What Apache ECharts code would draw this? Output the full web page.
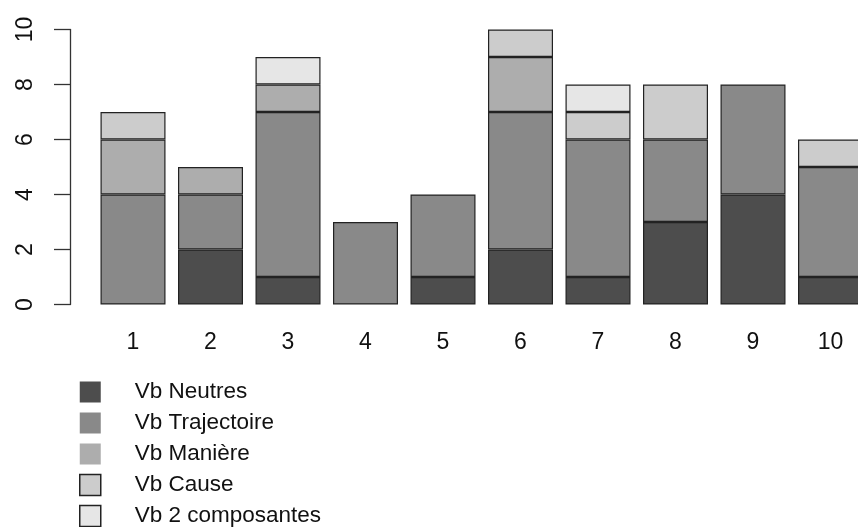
<!DOCTYPE html>
<html>
<head>
<meta charset="utf-8">
<script src="https://cdn.jsdelivr.net/npm/echarts@6/dist/echarts.min.js"></script>
<style>
html,body{margin:0;padding:0;background:#fff;overflow:hidden;width:858px;height:527px;}
#chart{width:900px;height:527px;}
</style>
</head>
<body>
<div id="chart"></div>
<script>
var categories = ['1','2','3','4','5','6','7','8','9','10'];
var seriesNames = ['Vb Neutres','Vb Trajectoire','Vb Manière','Vb Cause','Vb 2 composantes'];
var neutres     = [0, 2, 1, 0, 1, 2, 1, 3, 4, 1];
var trajectoire = [4, 2, 6, 3, 3, 5, 5, 3, 4, 4];
var maniere     = [2, 1, 1, 0, 0, 2, 0, 0, 0, 0];
var cause       = [1, 0, 0, 0, 0, 1, 1, 2, 0, 1];
var composantes = [0, 0, 1, 0, 0, 0, 1, 0, 0, 0];
var yTicks = [0, 2, 4, 6, 8, 10];

var values = [neutres, trajectoire, maniere, cause, composantes];
var colors = ['#4d4d4d', '#898989', '#adadad', '#cccccc', '#e6e6e6'];
var legendBorder = [false, false, false, true, true];

var chart = echarts.init(document.getElementById('chart'), null, {renderer: 'canvas'});
var font = 'Liberation Sans, Arial, sans-serif';

var series = seriesNames.map(function (name, i) {
  return {
    name: name,
    type: 'bar',
    stack: 'total',
    barWidth: 65,
    data: values[i].map(function (v) { return v === 0 ? null : v; }),
    itemStyle: { color: colors[i], borderColor: '#222', borderWidth: 1.2 },
    emphasis: { disabled: true },
    animation: false
  };
});

chart.setOption({
  animation: false,
  backgroundColor: '#fff',
  grid: { left: 94.25, width: 775, top: 29.5, height: 275, containLabel: false },
  xAxis: {
    type: 'category',
    data: categories,
    axisLine: { show: false },
    axisTick: { show: false },
    axisLabel: { fontFamily: font, fontSize: 23, color: '#111', margin: 27 },
    splitLine: { show: false }
  },
  yAxis: {
    type: 'value',
    min: yTicks[0],
    max: yTicks[yTicks.length - 1],
    interval: 2,
    offset: 24.25,
    axisLine: { show: true, lineStyle: { color: '#333', width: 1.3 } },
    axisTick: { show: true, length: 16, lineStyle: { color: '#333', width: 1.3 } },
    axisLabel: { fontFamily: font, fontSize: 23, color: '#111', rotate: 90, margin: 33 },
    splitLine: { show: false }
  },
  legend: {
    orient: 'vertical',
    left: 79,
    top: 380.5,
    height: 200,
    padding: 0,
    itemWidth: 21,
    itemHeight: 21,
    itemGap: 8,
    icon: 'rect',
    selectedMode: false,
    textStyle: { fontFamily: font, fontSize: 22.5, color: '#111', lineHeight: 21, padding: [0, 0, 0, 29] },
    data: seriesNames.map(function (n, i) {
      return {
        name: n,
        itemStyle: legendBorder[i]
          ? { color: colors[i], borderColor: '#222', borderWidth: 1.5 }
          : { color: colors[i], borderWidth: 0 }
      };
    })
  },
  series: series
});
</script>
</body>
</html>
